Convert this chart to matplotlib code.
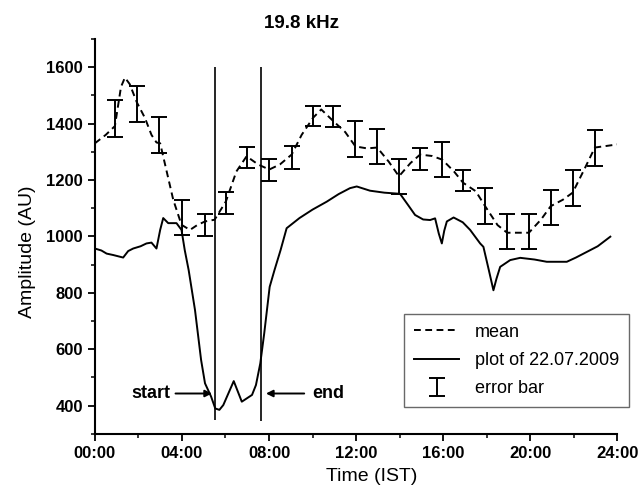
import numpy as np
import matplotlib
matplotlib.use("Agg")
import matplotlib.pyplot as plt
from matplotlib import font_manager as fm
from matplotlib.ticker import MultipleLocator

plt.rcParams['font.family'] = ['Liberation Sans', 'DejaVu Sans']

# pick the normal-width Liberation Sans files (avoid the Narrow cut)
def lib_font(weight):
    for f in fm.fontManager.ttflist:
        if (f.name == 'Liberation Sans' and f.weight == weight and f.style == 'normal'
                and 'narrow' not in f.fname.lower()):
            return fm.FontProperties(fname=f.fname)
    return fm.FontProperties(family='Liberation Sans',
                             weight='bold' if weight == 700 else 'normal')

fp_bold = lib_font(700)
fp_reg = lib_font(400)

# mean curve (dashed)
mean_t = [0, 0.5, 0.92, 1.2, 1.38, 1.6, 1.93, 2.3, 2.6, 2.83, 3.0, 3.3, 3.6, 3.98,
          4.37, 4.7, 5.06, 5.5, 6.02, 6.5, 6.97, 7.5, 8.01, 8.5, 9.04, 9.5, 10.03,
          10.4, 10.95, 11.5, 11.97, 12.5, 12.97, 13.5, 13.97, 14.5, 14.94, 15.5,
          15.96, 16.5, 16.92, 17.5, 17.93, 18.5, 18.94, 19.94, 20.5, 20.94, 21.5,
          21.95, 22.5, 22.97, 24]
mean_v = [1330, 1360, 1391, 1530, 1563, 1540, 1475, 1420, 1360, 1333, 1330, 1230,
          1130, 1041, 1023, 1040, 1053, 1059, 1124, 1230, 1284, 1255, 1237, 1255,
          1290, 1360, 1421, 1450, 1409, 1370, 1319, 1312, 1315, 1265, 1213, 1260,
          1290, 1285, 1272, 1230, 1190, 1160, 1107, 1040, 1013, 1013, 1060, 1107,
          1130, 1155, 1240, 1315, 1326]

# 22.07.2009 curve (solid)
day_t = [0, 0.3, 0.54, 0.84, 1.3, 1.53, 1.76, 2.1, 2.37, 2.6, 2.83, 3.0, 3.14, 3.37,
         3.75, 3.98, 4.13, 4.31, 4.6, 4.88, 5.06, 5.34, 5.53, 5.72, 5.9, 6.38, 6.75,
         7.22, 7.4, 7.6, 7.78, 8.03, 8.25, 8.53, 8.81, 9.4, 10.0, 10.65, 11.2, 11.72,
         12.03, 12.64, 13.3, 14.02, 14.4, 14.71, 15.08, 15.4, 15.63, 15.8, 15.94,
         16.05, 16.17, 16.48, 16.9, 17.24, 17.7, 17.85, 18.1, 18.31, 18.45, 18.62,
         19.08, 19.54, 20.2, 20.76, 21.68, 22.1, 22.45, 23.1, 23.68]
day_v = [957, 950, 939, 934, 925, 948, 957, 965, 975, 978, 957, 1023, 1065, 1047,
         1047, 1023, 951, 880, 739, 562, 479, 432, 390, 385, 402, 487, 414, 438, 473,
         550, 656, 821, 880, 951, 1029, 1065, 1095, 1123, 1150, 1171, 1177, 1162,
         1155, 1151, 1110, 1076, 1060, 1058, 1064, 1010, 975, 1020, 1053, 1067, 1050,
         1023, 975, 963, 880, 809, 850, 892, 916, 924, 918, 910, 910, 925, 939, 965, 999]

# error bars (hourly)
err_t = [0.92, 1.93, 2.96, 3.98, 5.06, 6.02, 6.97, 8.01, 9.04, 10.03, 10.95, 11.97,
         12.97, 13.97, 14.94, 15.96, 16.92, 17.93, 18.94, 19.94, 20.94, 21.95, 22.97]
err_lo = [1354, 1407, 1294, 1006, 1002, 1080, 1243, 1198, 1240, 1390, 1387, 1282,
          1255, 1152, 1237, 1211, 1160, 1044, 955, 955, 1041, 1109, 1251]
err_hi = [1483, 1534, 1422, 1130, 1080, 1157, 1317, 1276, 1321, 1461, 1461, 1409,
          1382, 1275, 1314, 1336, 1237, 1172, 1080, 1080, 1166, 1237, 1377]

start_t, end_t = 5.53, 7.63

fig = plt.figure(figsize=(6.41, 4.93), dpi=100)
ax = fig.add_axes([0.148, 0.12, 0.815, 0.801])

ax.plot(mean_t, mean_v, color='black', lw=1.4, ls=(0, (3.5, 2.3)), label='mean')
ax.plot(day_t, day_v, color='black', lw=1.4, label='plot of 22.07.2009')
lo = np.array(err_lo)
hi = np.array(err_hi)
mid = (lo + hi) / 2
eb = ax.errorbar(err_t, mid, yerr=(hi - lo) / 2, fmt='none', ecolor='black',
                 elinewidth=1.4, capsize=5.5, capthick=1.4, label='error bar')

ax.vlines(start_t, 350, 1600, color='black', lw=1.2)
ax.vlines(end_t, 345, 1600, color='black', lw=1.2)

ax.annotate('start', xy=(5.38, 443), xytext=(3.45, 443), fontproperties=fp_bold,
            fontsize=13, ha='right', va='center',
            arrowprops=dict(arrowstyle='-|>', color='black', lw=1.4,
                            mutation_scale=10, shrinkA=2, shrinkB=0))
ax.annotate('end', xy=(7.86, 443), xytext=(10.0, 443), fontproperties=fp_bold,
            fontsize=13, ha='left', va='center',
            arrowprops=dict(arrowstyle='-|>', color='black', lw=1.4,
                            mutation_scale=10, shrinkA=4, shrinkB=0))

ax.set_xlim(0, 24)
ax.set_ylim(300, 1700)
ax.set_xticks(range(0, 25, 4))
ax.set_xticklabels(['%02d:00' % h for h in range(0, 25, 4)])
ax.xaxis.set_minor_locator(MultipleLocator(2))
ax.set_yticks(range(400, 1601, 200))
ax.yaxis.set_minor_locator(MultipleLocator(100))
for lab in ax.get_xticklabels() + ax.get_yticklabels():
    lab.set_fontproperties(fp_bold)
    lab.set_fontsize(12)
ax.tick_params(which='major', direction='out', length=5, width=1.3)
ax.tick_params(which='minor', direction='out', length=3, width=1.1)

for s in ['top', 'right']:
    ax.spines[s].set_visible(False)
for s in ['left', 'bottom']:
    ax.spines[s].set_linewidth(1.5)

ax.set_xlabel('Time (IST)', fontproperties=fp_reg, fontsize=14)
ax.xaxis.set_label_coords(0.529, -0.087)
ax.set_ylabel('Amplitude (AU)', fontproperties=fp_reg, fontsize=14)
ax.yaxis.set_label_coords(-0.112, 0.461)
fig.text(0.47, 0.952, '19.8 kHz', fontproperties=fp_bold, fontsize=13.5,
         ha='center', va='center')

h, l = ax.get_legend_handles_labels()
leg_fp = fp_reg.copy()
leg_fp.set_size(13)
leg = ax.legend(h, l, loc='lower left', bbox_to_anchor=(0.592, 0.068), prop=leg_fp,
                frameon=True, fancybox=False, edgecolor='#444444', handlelength=2.5,
                handletextpad=0.85, borderpad=0.55, borderaxespad=0, labelspacing=0.62)
leg.get_frame().set_linewidth(1.0)

fig.savefig('out.png', dpi=100)
